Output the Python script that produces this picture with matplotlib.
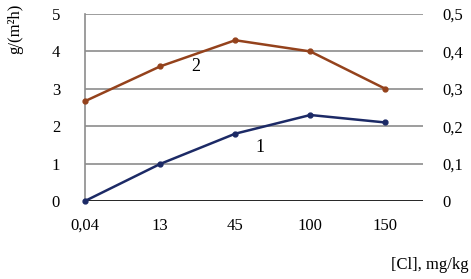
import numpy as np
import matplotlib.pyplot as plt

plt.rcParams['font.family'] = ['Liberation Serif', 'DejaVu Serif']

categories = ['0,04', '13', '45', '100', '150']
series2 = [2.67, 3.6, 4.3, 4.0, 3.0]
series1 = [0.0, 0.99, 1.8, 2.3, 2.1]
left_ticks = [0, 1, 2, 3, 4, 5]
right_labels = ['0', '0,1', '0,2', '0,3', '0,4', '0,5']

x = np.arange(len(categories))

fig = plt.figure(figsize=(4.71, 2.79), dpi=100)
ax = fig.add_axes([0.1805, 0.2796, 0.7175, 0.670])

for t in left_ticks[1:]:
    ax.axhline(t, color='#8c8c8c', lw=1.2, zorder=1)
ax.axhline(0, color='black', lw=1.2, zorder=1)

ax.plot(x, series2, color='#94421c', lw=1.8, marker='o', ms=3.5, zorder=3, clip_on=False)
ax.plot(x, series1, color='#1c2a66', lw=1.8, marker='o', ms=3.5, zorder=3, clip_on=False)

ax.text(1.47, 3.6, '2', fontsize=13, ha='center', va='center')
ax.text(2.33, 1.42, '1', fontsize=13, ha='center', va='center')

ax.set_xlim(0, 4.5)
ax.set_ylim(0, 5)
ax.set_xticks(x)
ax.set_xticklabels(categories)
ax.set_yticks(left_ticks)
ax.tick_params(axis='both', length=0, labelsize=12)
ax.tick_params(axis='x', pad=12)
ax.tick_params(axis='y', pad=18)

for s in ['top', 'right', 'bottom']:
    ax.spines[s].set_visible(False)
ax.spines['left'].set_color('#8c8c8c')
ax.spines['left'].set_linewidth(1.2)

ax2 = ax.twinx()
ax2.set_ylim(0, 0.5)
ax2.set_yticks(np.array(left_ticks) / 10)
ax2.set_yticklabels(right_labels)
ax2.tick_params(axis='y', length=0, labelsize=12, pad=14)
for s in ax2.spines.values():
    s.set_visible(False)

fig.text(0.032, 0.895, 'g/(m²h)', rotation=90, fontsize=12, ha='center', va='center')
fig.text(0.995, 0.05, '[Cl], mg/kg', fontsize=12, ha='right', va='center')

fig.savefig('out.png', dpi=100)
